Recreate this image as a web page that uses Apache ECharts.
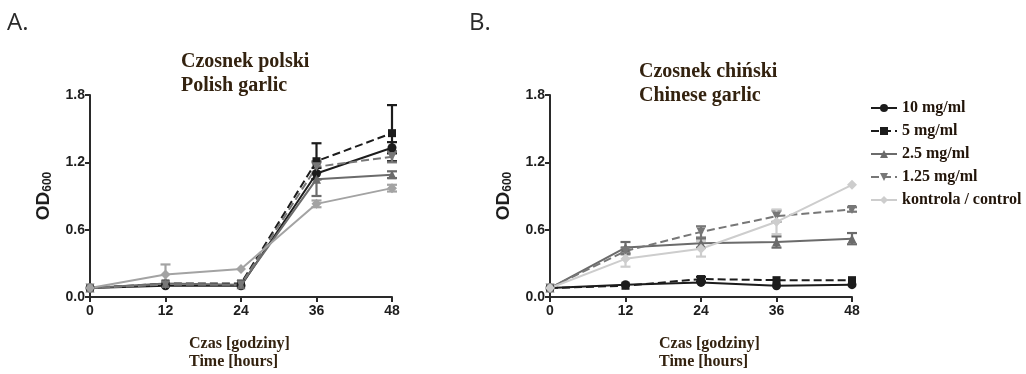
<!DOCTYPE html>
<html>
<head>
<meta charset="utf-8">
<script src="https://cdn.jsdelivr.net/npm/echarts@6/dist/echarts.min.js"></script>
<style>
html,body{margin:0;padding:0;background:#fff;}
#chart{width:1026px;height:374px;}
</style>
</head>
<body>
<div id="chart"></div>
<script>
// ---- data ----
const hours = [0, 12, 24, 36, 48];
const yTicks = [0.0, 0.6, 1.2, 1.8];
const seriesNames = ['10 mg/ml', '5 mg/ml', '2.5 mg/ml', '1.25 mg/ml', 'kontrola / control'];

// Panel A: Polish garlic (mean OD600)
const polish10  = [0.08, 0.10, 0.10, 1.10, 1.33];
const polish5   = [0.08, 0.12, 0.12, 1.21, 1.46];
const polish25  = [0.08, 0.12, 0.11, 1.05, 1.09];
const polish125 = [0.08, 0.11, 0.11, 1.16, 1.25];
const polishCtl = [0.08, 0.20, 0.25, 0.83, 0.97];
// error (SD)
const polishErr10  = [0, 0.01, 0.01, 0.05, 0.05];
const polishErr5   = [0, 0.01, 0.01, 0.16, 0.25];
const polishErr25  = [0, 0.01, 0.01, 0.15, 0.03];
const polishErr125 = [0, 0.01, 0.01, 0.05, 0.05];
const polishErrCtl = [0, 0.09, 0.01, 0.03, 0.03];

// Panel B: Chinese garlic
const chinese10  = [0.08, 0.11, 0.13, 0.10, 0.11];
const chinese5   = [0.08, 0.10, 0.16, 0.15, 0.15];
const chinese25  = [0.08, 0.44, 0.48, 0.49, 0.52];
const chinese125 = [0.08, 0.41, 0.58, 0.72, 0.78];
const chineseCtl = [0.08, 0.34, 0.43, 0.67, 1.00];
const chineseErr10  = [0, 0.01, 0.01, 0.01, 0.01];
const chineseErr5   = [0, 0.01, 0.02, 0.01, 0.01];
const chineseErr25  = [0, 0.05, 0.04, 0.05, 0.05];
const chineseErr125 = [0, 0.03, 0.05, 0.05, 0.02];
const chineseErrCtl = [0, 0.07, 0.07, 0.11, 0.01];

// ---- styles ----
const styles = [
  {color: '#1c1c1c', type: 'solid',  symbol: 'circle', size: 9},
  {color: '#1c1c1c', type: 'dashed', symbol: 'rect', size: 8},
  {color: '#6b6b6b', type: 'solid',  symbol: 'triangle', size: 9},
  {color: '#777777', type: 'dashed', symbol: 'path://M0,0 L10,0 L5,9 Z', size: 9},
  {color: '#cdcdcd', type: 'solid',  symbol: 'diamond', size: 10}
];
const ctlColorA = '#a3a3a3';

const panelA = [polish10, polish5, polish25, polish125, polishCtl];
const panelAErr = [polishErr10, polishErr5, polishErr25, polishErr125, polishErrCtl];
const panelB = [chinese10, chinese5, chinese25, chinese125, chineseCtl];
const panelBErr = [chineseErr10, chineseErr5, chineseErr25, chineseErr125, chineseErrCtl];

function pts(vals){ return hours.map((h,i)=>[h, vals[i]]); }
function errPts(vals, errs){ return hours.map((h,i)=>[h, vals[i], errs[i]]); }

function errorSeries(name, idx, vals, errs, color){
  return {
    name: name, type: 'custom', xAxisIndex: idx, yAxisIndex: idx,
    data: errPts(vals, errs), z: 1, silent: true,
    renderItem: function(params, api){
      const x = api.value(0), y = api.value(1), e = api.value(2);
      if (!e || e < 0.015) return null;
      const top = api.coord([x, y + e]);
      const bot = api.coord([x, y - e]);
      const hw = 5;
      const st = {stroke: color, lineWidth: 2.2};
      return {type: 'group', children: [
        {type: 'line', shape: {x1: top[0], y1: top[1], x2: bot[0], y2: bot[1]}, style: st},
        {type: 'line', shape: {x1: top[0]-hw, y1: top[1], x2: top[0]+hw, y2: top[1]}, style: st},
        {type: 'line', shape: {x1: bot[0]-hw, y1: bot[1], x2: bot[0]+hw, y2: bot[1]}, style: st}
      ]};
    }
  };
}

function lineSeries(name, idx, vals, st, color){
  return {
    name: name, type: 'line', xAxisIndex: idx, yAxisIndex: idx,
    data: pts(vals), symbol: st.symbol, symbolSize: st.size, z: 3,
    lineStyle: {color: color, width: 2, type: st.type},
    itemStyle: {color: color},
    emphasis: {disabled: true}
  };
}

const series = [];
// Panel B first (legend picks these colours)
panelB.forEach((v,i)=>{
  series.push(lineSeries(seriesNames[i], 1, v, styles[i], styles[i].color));
  series.push(errorSeries(seriesNames[i] + ' err', 1, v, panelBErr[i], styles[i].color));
});
panelA.forEach((v,i)=>{
  const c = i === 4 ? ctlColorA : styles[i].color;
  series.push(lineSeries(seriesNames[i], 0, v, styles[i], c));
  series.push(errorSeries(seriesNames[i] + ' errA', 0, v, panelAErr[i], c));
});

const tickFont = {fontFamily: 'Liberation Sans, Arial, sans-serif', fontWeight: 'bold', fontSize: 14, color: '#1e1e1e'};
const axisLine = {show: true, lineStyle: {color: '#2a2a2a', width: 2}};
const axisTick = {show: true, length: 5, lineStyle: {color: '#2a2a2a', width: 2}};

function xAxis(idx){
  return {
    type: 'value', gridIndex: idx, min: hours[0], max: hours[hours.length-1], interval: 12,
    axisLine: axisLine, axisTick: axisTick, splitLine: {show: false},
    axisLabel: Object.assign({margin: 7}, tickFont)
  };
}
function yAxis(idx){
  return {
    type: 'value', gridIndex: idx, min: yTicks[0], max: yTicks[yTicks.length-1], interval: 0.6,
    axisLine: axisLine, axisTick: axisTick, splitLine: {show: false},
    axisLabel: Object.assign({margin: 5, formatter: v => v.toFixed(1)}, tickFont),
    name: 'OD{sub|600}', nameLocation: 'middle', nameGap: 36, nameRotate: 90,
    nameTextStyle: {
      fontFamily: 'Liberation Sans, Arial, sans-serif', fontWeight: 'bold', fontSize: 19, color: '#1e1e1e',
      rich: {sub: {fontFamily: 'Liberation Sans, Arial, sans-serif', fontWeight: 'bold', fontSize: 12, color: '#1e1e1e', padding: [9, 0, 0, 0]}}
    }
  };
}

const serif = 'Liberation Serif, Times New Roman, serif';
const brown = '#33220f';

const option = {
  animation: false,
  backgroundColor: '#ffffff',
  title: [
    {text: 'A.', left: 7, top: 11, padding: 0, textStyle: {fontFamily: 'Open Sans, sans-serif', fontWeight: 'normal', fontSize: 24, color: '#2a2a2a'}},
    {text: 'B.', left: 469, top: 11, padding: 0, textStyle: {fontFamily: 'Open Sans, sans-serif', fontWeight: 'normal', fontSize: 24, color: '#2a2a2a'}},
    {text: 'Czosnek polski\nPolish garlic', left: 181, top: 50, padding: 0, textStyle: {fontFamily: serif, fontWeight: 'bold', fontSize: 20, lineHeight: 24, color: brown}},
    {text: 'Czosnek chiński\nChinese garlic', left: 639, top: 60, padding: 0, textStyle: {fontFamily: serif, fontWeight: 'bold', fontSize: 20, lineHeight: 24, color: brown}},
    {text: 'Czas [godziny]\nTime [hours]', left: 189, top: 335, padding: 0, textStyle: {fontFamily: serif, fontWeight: 'bold', fontSize: 16, lineHeight: 18, color: brown}},
    {text: 'Czas [godziny]\nTime [hours]', left: 659, top: 335, padding: 0, textStyle: {fontFamily: serif, fontWeight: 'bold', fontSize: 16, lineHeight: 18, color: brown}}
  ],
  legend: {
    data: seriesNames,
    orient: 'vertical', left: 870, top: 100, itemGap: 7, padding: 0,
    itemWidth: 26, itemHeight: 10,
    textStyle: {fontFamily: serif, fontWeight: 'bold', fontSize: 16, lineHeight: 16, color: '#22150a'}
  },
  grid: [
    {left: 90, right: 634, top: 95, bottom: 77},
    {left: 550, right: 174, top: 95, bottom: 77}
  ],
  xAxis: [xAxis(0), xAxis(1)],
  yAxis: [yAxis(0), yAxis(1)],
  series: series
};

const chart = echarts.init(document.getElementById('chart'), null, {renderer: 'canvas'});
chart.setOption(option);
</script>
</body>
</html>
